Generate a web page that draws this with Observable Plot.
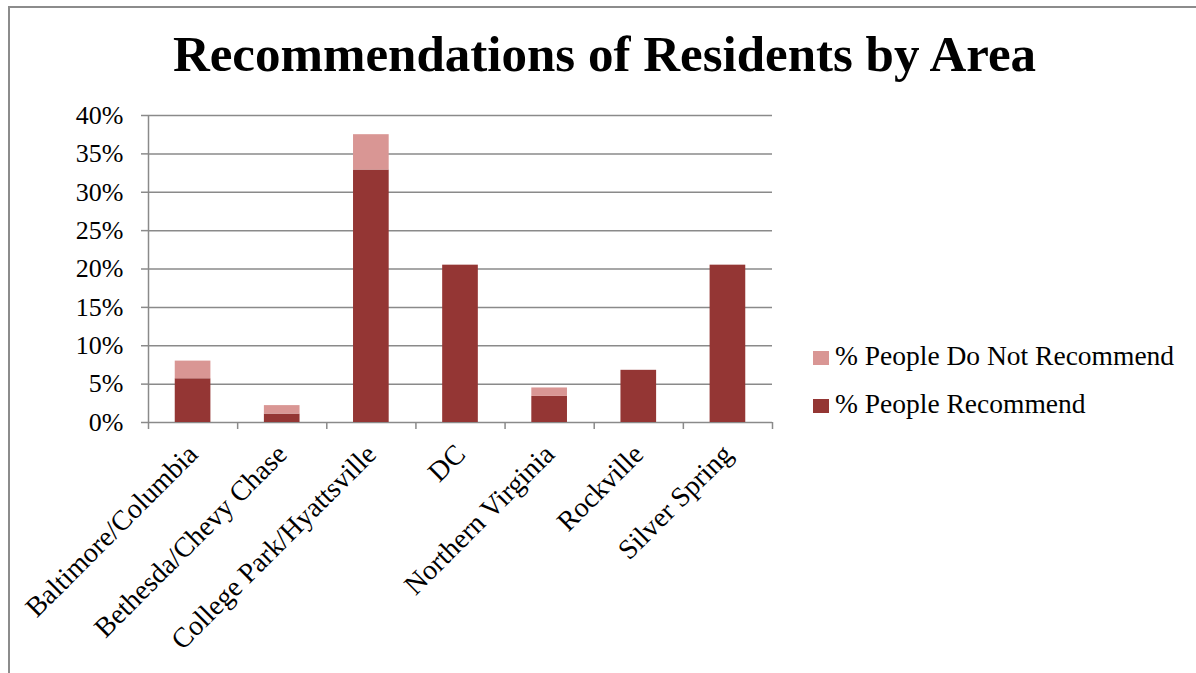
<!DOCTYPE html>
<html><head><meta charset="utf-8">
<script src="https://cdn.jsdelivr.net/npm/d3@7"></script>
<script src="https://cdn.jsdelivr.net/npm/@observablehq/plot@0.6"></script>
<style>
body{margin:0;background:#fff;}
#wrap{position:relative;width:1196px;height:673px;overflow:hidden;font-family:"Liberation Serif",serif;color:#000;}
#border{position:absolute;left:8px;top:6px;right:-10px;bottom:-10px;border-top:2px solid #8c8c8c;border-left:2px solid #8c8c8c;}
#title{position:absolute;left:0;width:1209px;top:29px;text-align:center;font-weight:bold;font-size:51px;line-height:51px;white-space:nowrap;}
#chart{position:absolute;left:0;top:0;}
.leg{position:absolute;left:813px;font-size:27.5px;line-height:27.5px;white-space:nowrap;}
.leg span.sw{position:absolute;left:0;width:16px;height:14px;}
.leg span.tx{position:absolute;left:22px;top:0;}
</style></head>
<body>
<div id="wrap">
  <div id="border"></div>
  <div id="title"></div>
  <div id="chart"></div>
  <div id="legend"></div>
</div>
<script>
const chartTitle = "Recommendations of Residents by Area";
const areas = ["Baltimore/Columbia","Bethesda/Chevy Chase","College Park/Hyattsville","DC","Northern Virginia","Rockville","Silver Spring"];
const recommend = [5.7, 1.1, 32.9, 20.5, 3.4, 6.8, 20.5];
const notRecommend = [2.3, 1.1, 4.6, 0, 1.1, 0, 0];
const seriesNames = ["% People Recommend", "% People Do Not Recommend"];
const seriesColors = ["#943634", "#d99694"];
const yTicks = [0, 5, 10, 15, 20, 25, 30, 35, 40];

document.getElementById("title").textContent = chartTitle;

const rows = areas.flatMap((a, i) => [
  {i, area: a, series: seriesNames[0], y1: 0, y2: recommend[i]},
  {i, area: a, series: seriesNames[1], y1: recommend[i], y2: recommend[i] + notRecommend[i]}
]).filter(d => d.y2 > d.y1);

const grey = "#8a8a8a";
const plot = Plot.plot({
  width: 1196, height: 673,
  marginLeft: 148, marginRight: 424, marginTop: 115, marginBottom: 251,
  style: {fontFamily: "Liberation Serif", background: "transparent", color: "#000"},
  x: {type: "linear", domain: [0, areas.length]},
  y: {domain: [0, 40]},
  color: {domain: seriesNames, range: seriesColors},
  marks: [
    Plot.gridY(yTicks, {stroke: grey, strokeOpacity: 1, strokeWidth: 1.5}),
    Plot.axisY({ticks: yTicks, tickSize: 7, tickPadding: 18, tickFormat: d => d + "%", fontSize: 26, stroke: grey, strokeWidth: 1.5, strokeOpacity: 1}),
    Plot.ruleX([0], {stroke: grey, strokeWidth: 1.5}),
    Plot.axisX({ticks: d3.range(areas.length + 1), tickFormat: () => "", tickSize: 7, stroke: grey, strokeWidth: 1.5, strokeOpacity: 1}),
    Plot.axisX({ticks: areas.map((a, i) => i + 0.5), tickFormat: t => areas[Math.floor(t)], tickSize: 0, tickPadding: 27, tickRotate: -45, fontSize: 28}),
    Plot.rect(rows, {x1: d => d.i + 0.3, x2: d => d.i + 0.7, y1: "y1", y2: "y2", fill: "series",
      style: "filter: drop-shadow(1px 1px 2px rgba(0,0,0,0.25))"})
  ]
});
document.getElementById("chart").appendChild(plot);

const legend = document.getElementById("legend");
const legOrder = [1, 0];
legOrder.forEach((s, k) => {
  const row = document.createElement("div");
  row.className = "leg";
  row.style.top = (342 + k * 48) + "px";
  row.innerHTML = `<span class="sw" style="top:9px;background:${seriesColors[s]}"></span><span class="tx"></span>`;
  row.querySelector(".tx").textContent = seriesNames[s];
  legend.appendChild(row);
});
</script>
</body></html>
